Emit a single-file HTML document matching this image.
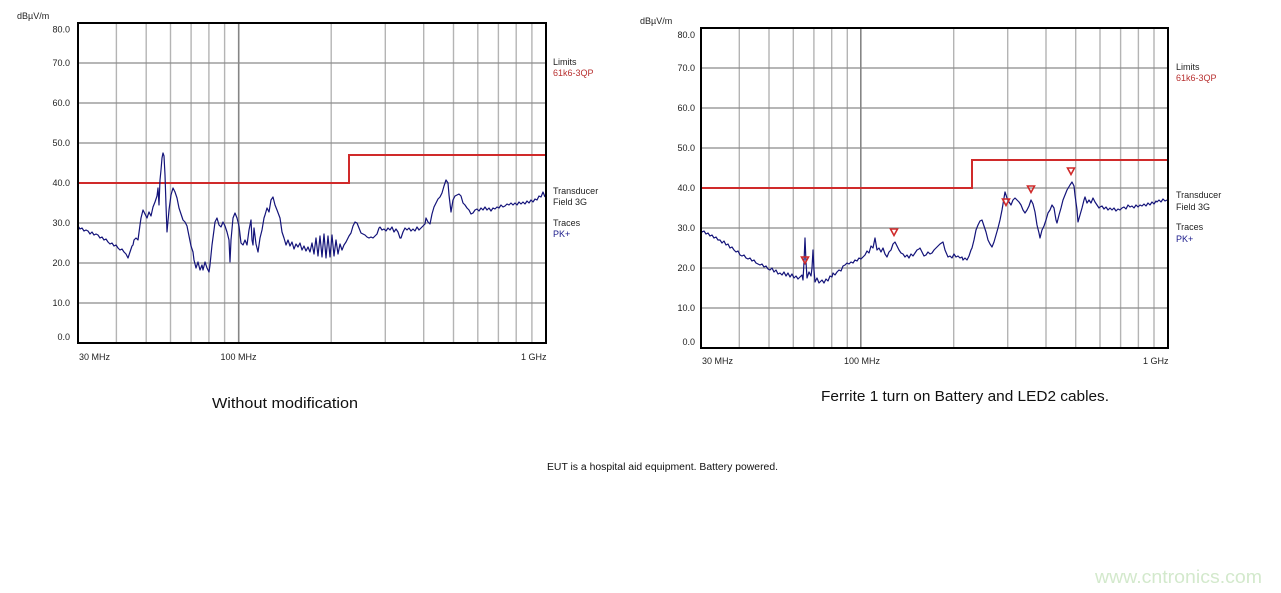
<!DOCTYPE html>
<html>
<head>
<meta charset="utf-8">
<style>
html,body{margin:0;padding:0;background:#fff;}
svg{display:block;}
text{font-family:"Liberation Sans",Arial,sans-serif;}
</style>
</head>
<body>
<svg width="1281" height="593" viewBox="0 0 1281 593" xmlns="http://www.w3.org/2000/svg">
<rect x="0" y="0" width="1281" height="593" fill="#fff"/>

<!-- ================= LEFT CHART ================= -->
<g>
  <g stroke="#b4b4b4" stroke-width="1.4">
    <line x1="116.4" y1="23" x2="116.4" y2="343"/>
    <line x1="146.2" y1="23" x2="146.2" y2="343"/>
    <line x1="170.5" y1="23" x2="170.5" y2="343"/>
    <line x1="191.1" y1="23" x2="191.1" y2="343"/>
    <line x1="208.9" y1="23" x2="208.9" y2="343"/>
    <line x1="224.6" y1="23" x2="224.6" y2="343"/>
    <line x1="331.2" y1="23" x2="331.2" y2="343"/>
    <line x1="385.3" y1="23" x2="385.3" y2="343"/>
    <line x1="423.7" y1="23" x2="423.7" y2="343"/>
    <line x1="453.5" y1="23" x2="453.5" y2="343"/>
    <line x1="477.8" y1="23" x2="477.8" y2="343"/>
    <line x1="498.4" y1="23" x2="498.4" y2="343"/>
    <line x1="516.2" y1="23" x2="516.2" y2="343"/>
    <line x1="531.9" y1="23" x2="531.9" y2="343"/>
  </g>
  <line x1="238.7" y1="23" x2="238.7" y2="343" stroke="#858585" stroke-width="1.6"/>
  <g stroke="#8a8a8a" stroke-width="1.2">
    <line x1="78" y1="63" x2="546" y2="63"/>
    <line x1="78" y1="103" x2="546" y2="103"/>
    <line x1="78" y1="143" x2="546" y2="143"/>
    <line x1="78" y1="183" x2="546" y2="183"/>
    <line x1="78" y1="223" x2="546" y2="223"/>
    <line x1="78" y1="263" x2="546" y2="263"/>
    <line x1="78" y1="303" x2="546" y2="303"/>
  </g>
  <polyline points="78,183 349,183 349,155 546,155" fill="none" stroke="#d02a2a" stroke-width="2"/>
  <polyline fill="none" stroke="#14147a" stroke-width="1.2" stroke-linejoin="round" points="78,226 80,229 82,228 84,231 86,230 88,231 90,234 92,232 94,235 96,234 98,235 100,238 102,237 104,240 106,239 108,242 110,244 112,243 114,246 116,245 118,248 120,250 122,249 124,252 126,254 128,258 130,252 132,246 133,245 134,240 136,238 138,240 140,225 141,218 143,210 145,214 147,218 149,212 151,216 153,207 155,202 157,196 158,188 159,205 160,180 161,170 162,158 163,153 164,156 165,175 166,205 167,232 169,210 171,195 173,188 175,192 177,198 179,208 181,214 183,220 185,222 187,226 189,236 191,246 193,252 194,260 196,268 198,262 200,270 202,265 203,270 205,262 207,268 209,272 210,265 212,245 214,230 215,222 217,218 219,225 221,227 223,222 225,226 227,232 229,240 230,262 231,240 233,218 235,213 237,218 239,226 241,243 243,245 245,240 247,245 249,230 251,220 252,240 253,245 254,228 256,244 258,252 260,238 262,230 264,218 265,215 267,208 269,212 271,200 273,197 275,205 277,210 280,218 282,232 284,238 286,245 288,240 290,246 292,242 294,249 296,244 298,247 300,243 302,250 304,246 306,251 308,247 310,252 312,243 314,254 316,238 318,256 320,236 322,257 324,234 326,258 328,236 330,257 332,235 334,256 336,240 338,254 340,244 342,250 344,245 346,242 347,240 349,236 351,233 353,226 355,222 357,223 359,228 361,233 363,234 365,235 367,237 369,238 371,237 373,238 375,236 377,234 379,228 380,227 382,230 384,229 386,231 388,228 390,230 392,227 394,232 396,229 398,232 400,238 401,238 403,232 405,228 407,230 409,228 411,231 413,229 415,231 417,227 419,230 421,228 423,226 425,224 426,218 428,222 430,224 432,214 434,207 436,203 438,199 440,197 442,193 444,186 446,180 448,183 449,195 451,212 453,200 455,196 457,195 459,194 461,196 463,203 465,205 467,208 469,210 471,214 473,213 475,210 477,209 479,211 481,208 483,210 485,207 487,210 489,208 491,211 493,208 495,209 497,207 499,208 501,205 503,207 505,206 507,204 509,205 511,203 513,205 515,203 517,205 519,202 521,204 523,202 525,204 527,201 529,203 531,200 533,202 535,199 537,200 539,196 541,197 543,192 545,197"/>
  <rect x="78" y="23" width="468" height="320" fill="none" stroke="#000" stroke-width="2"/>
  <g font-size="9" fill="#222" text-anchor="end">
    <text x="70" y="32.5">80.0</text>
    <text x="70" y="66">70.0</text>
    <text x="70" y="106">60.0</text>
    <text x="70" y="146">50.0</text>
    <text x="70" y="186">40.0</text>
    <text x="70" y="226">30.0</text>
    <text x="70" y="266">20.0</text>
    <text x="70" y="306">10.0</text>
    <text x="70" y="340">0.0</text>
  </g>
  <text x="17" y="19" font-size="9" fill="#222">dBµV/m</text>
  <g font-size="9" fill="#222">
    <text x="79" y="360">30 MHz</text>
    <text x="238.5" y="360" text-anchor="middle">100 MHz</text>
    <text x="521" y="360">1 GHz</text>
  </g>
  <g font-size="9">
    <text x="553" y="65" fill="#222">Limits</text>
    <text x="553" y="76" fill="#b83030">61k6-3QP</text>
    <text x="553" y="194" fill="#222">Transducer</text>
    <text x="553" y="205" fill="#222">Field 3G</text>
    <text x="553" y="226" fill="#222">Traces</text>
    <text x="553" y="237" fill="#1a1a8a">PK+</text>
  </g>
</g>

<!-- ================= RIGHT CHART ================= -->
<g>
  <g stroke="#b4b4b4" stroke-width="1.4">
    <line x1="739.3" y1="28" x2="739.3" y2="348"/>
    <line x1="769" y1="28" x2="769" y2="348"/>
    <line x1="793.3" y1="28" x2="793.3" y2="348"/>
    <line x1="813.9" y1="28" x2="813.9" y2="348"/>
    <line x1="831.7" y1="28" x2="831.7" y2="348"/>
    <line x1="847.3" y1="28" x2="847.3" y2="348"/>
    <line x1="953.7" y1="28" x2="953.7" y2="348"/>
    <line x1="1007.7" y1="28" x2="1007.7" y2="348"/>
    <line x1="1046" y1="28" x2="1046" y2="348"/>
    <line x1="1075.7" y1="28" x2="1075.7" y2="348"/>
    <line x1="1100" y1="28" x2="1100" y2="348"/>
    <line x1="1120.6" y1="28" x2="1120.6" y2="348"/>
    <line x1="1138.4" y1="28" x2="1138.4" y2="348"/>
    <line x1="1154" y1="28" x2="1154" y2="348"/>
  </g>
  <line x1="860.8" y1="28" x2="860.8" y2="348" stroke="#858585" stroke-width="1.6"/>
  <g stroke="#8a8a8a" stroke-width="1.2">
    <line x1="701" y1="68" x2="1168" y2="68"/>
    <line x1="701" y1="108" x2="1168" y2="108"/>
    <line x1="701" y1="148" x2="1168" y2="148"/>
    <line x1="701" y1="188" x2="1168" y2="188"/>
    <line x1="701" y1="228" x2="1168" y2="228"/>
    <line x1="701" y1="268" x2="1168" y2="268"/>
    <line x1="701" y1="308" x2="1168" y2="308"/>
  </g>
  <polyline points="701,188 972,188 972,160 1168,160" fill="none" stroke="#d02a2a" stroke-width="2"/>
  <polyline fill="none" stroke="#14147a" stroke-width="1.2" stroke-linejoin="round" points="701,230 702,232 704,231 706,234 708,233 710,236 712,235 714,238 716,237 718,240 720,240 722,243 724,241 726,245 728,244 730,248 732,247 734,250 736,252 738,251 740,255 742,256 744,255 746,258 748,259 750,258 752,261 754,260 756,263 758,264 760,265 762,264 764,267 766,266 768,269 770,270 772,268 774,272 776,270 778,274 780,273 782,275 784,272 786,276 788,273 790,277 792,274 794,278 796,276 798,279 800,277 802,275 803,280 804,262 805,238 806,262 807,278 809,272 811,276 812,268 813,250 814,270 815,282 817,278 819,283 820,282 822,280 824,283 826,279 828,281 830,276 832,277 833,273 835,275 837,272 839,270 841,271 843,266 845,265 847,263 849,264 851,262 853,263 855,260 857,261 859,258 861,259 863,257 865,255 867,251 869,253 871,246 873,248 875,238 877,250 879,248 881,252 883,248 885,254 887,257 889,252 891,250 893,244 895,242 897,246 899,250 901,253 903,254 905,257 907,255 909,258 911,254 913,256 915,253 917,250 919,249 920,248 922,252 924,256 926,255 928,252 930,254 932,253 934,250 936,248 938,246 940,244 943,242 945,250 948,257 950,256 952,258 954,254 956,257 958,256 960,258 962,257 963,260 965,258 967,260 969,256 971,250 972,248 974,240 976,230 978,225 980,221 982,220 984,226 986,232 988,240 990,244 992,247 994,242 996,235 998,228 1000,220 1002,210 1004,198 1005,192 1007,198 1009,202 1011,205 1013,200 1015,198 1017,200 1019,202 1021,205 1023,210 1025,213 1027,210 1029,206 1031,200 1033,204 1035,212 1037,225 1039,233 1040,238 1042,230 1044,226 1046,220 1048,213 1050,210 1052,205 1054,208 1056,220 1057,223 1059,215 1061,208 1063,200 1065,195 1067,190 1070,185 1072,182 1074,186 1075,195 1077,210 1078,222 1080,215 1082,208 1084,200 1085,197 1087,203 1089,200 1091,203 1093,198 1095,202 1097,205 1099,208 1100,207 1102,206 1104,209 1106,207 1108,210 1110,208 1112,210 1114,208 1116,211 1118,209 1120,210 1122,208 1124,207 1126,209 1128,205 1130,207 1132,206 1134,208 1136,205 1138,207 1140,205 1142,206 1144,204 1146,206 1148,203 1150,205 1152,202 1154,204 1156,201 1157,202 1159,200 1161,202 1163,199 1165,201 1167,200"/>
  <g fill="none" stroke="#d02a2a" stroke-width="1.6">
    <polygon points="890.5,229 897.5,229 894,235.5"/>
    <polygon points="801.5,257 808.5,257 805,263.5"/>
    <polygon points="1002.5,199 1009.5,199 1006,205.5"/>
    <polygon points="1027.5,186 1034.5,186 1031,192.5"/>
    <polygon points="1067.5,168 1074.5,168 1071,174.5"/>
  </g>
  <rect x="701" y="28" width="467" height="320" fill="none" stroke="#000" stroke-width="2"/>
  <g font-size="9" fill="#222" text-anchor="end">
    <text x="695" y="38">80.0</text>
    <text x="695" y="71">70.0</text>
    <text x="695" y="111">60.0</text>
    <text x="695" y="151">50.0</text>
    <text x="695" y="191">40.0</text>
    <text x="695" y="231">30.0</text>
    <text x="695" y="271">20.0</text>
    <text x="695" y="311">10.0</text>
    <text x="695" y="345">0.0</text>
  </g>
  <text x="640" y="24" font-size="9" fill="#222">dBµV/m</text>
  <g font-size="9" fill="#222">
    <text x="702" y="364">30 MHz</text>
    <text x="862" y="364" text-anchor="middle">100 MHz</text>
    <text x="1143" y="364">1 GHz</text>
  </g>
  <g font-size="9">
    <text x="1176" y="70" fill="#222">Limits</text>
    <text x="1176" y="81" fill="#b83030">61k6-3QP</text>
    <text x="1176" y="198" fill="#222">Transducer</text>
    <text x="1176" y="210" fill="#222">Field 3G</text>
    <text x="1176" y="230" fill="#222">Traces</text>
    <text x="1176" y="242" fill="#1a1a8a">PK+</text>
  </g>
</g>

<text x="212" y="408" font-size="15" fill="#111" textLength="146" lengthAdjust="spacingAndGlyphs">Without modification</text>
<text x="821" y="401" font-size="15" fill="#111" textLength="288" lengthAdjust="spacingAndGlyphs">Ferrite 1 turn on Battery and LED2 cables.</text>
<text x="547" y="470" font-size="10" fill="#111" textLength="231" lengthAdjust="spacingAndGlyphs">EUT is a hospital aid equipment. Battery powered.</text>
<text x="1095" y="583" font-size="18" fill="#d3e9cc" textLength="167" lengthAdjust="spacingAndGlyphs">www.cntronics.com</text>
</svg>
</body>
</html>
